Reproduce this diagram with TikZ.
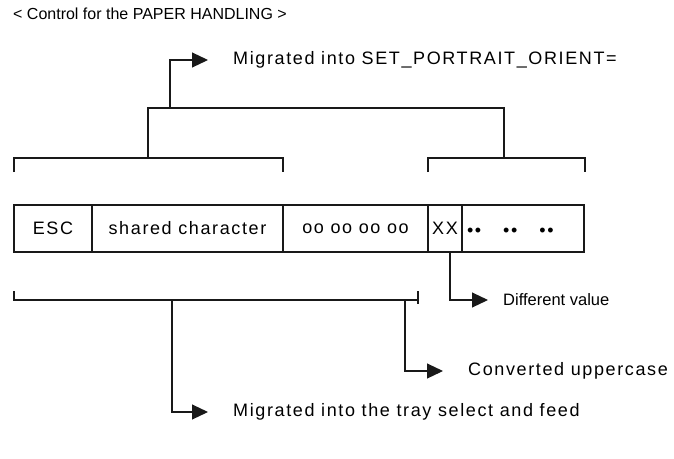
\documentclass[tikz,border=0pt]{standalone}
\usepackage{fontspec}
\setmainfont{Liberation Sans}
\newfontfamily\spaced{Liberation Sans}[LetterSpace=9]
\usepackage{xcolor}
\usepackage{tikz}
\usetikzlibrary{arrows.meta, positioning}
\definecolor{mydark}{RGB}{25,25,25}
\tikzset{
  line/.style={draw=mydark, line width=1.1pt},
  arrow/.style={draw=mydark, line width=1.1pt, -{Triangle[length=16pt, width=15pt]}, shorten >=25pt},
  cell/.style={draw=mydark, line width=1.1pt, rectangle, minimum height=47pt, inner sep=0pt, outer sep=0pt, font=\spaced\fontsize{18}{20}\selectfont},
  lbl/.style={anchor=west, inner sep=0pt, font=\spaced\fontsize{18}{20}\selectfont}
}
\begin{document}
\begin{tikzpicture}[x=1pt, y=-1pt]
  \useasboundingbox (0,0) rectangle (674,458);
  \node [lbl, font=\fontsize{16}{18}\selectfont] (title) at (13,14) {< Control for the PAPER HANDLING >};

  \node [cell, minimum width=78pt, anchor=north west] (esc) at (14,205) {ESC};
  \node [cell, minimum width=191pt, right=0pt of esc] (shrd) {shared character};
  \node [cell, minimum width=145pt, right=0pt of shrd] (code) {oo oo oo oo};
  \node [cell, minimum width=34pt, right=0pt of code] (xx) {XX};
  \node [cell, text width=112pt, inner xsep=5pt, align=left, right=0pt of xx] (dots) {\rule{0pt}{12pt}\raisebox{-2pt}[0pt][0pt]{••\hspace{22pt}••\hspace{22pt}••}};

  \node [lbl] (lorient) at (233,60) {Migrated into SET\_PORTRAIT\_ORIENT=};
  \node [lbl, font=\fontsize{16.5}{18}\selectfont] (ldiff) at (503,300) {Different value};
  \node [lbl] (lconv) at (468,371) {Converted uppercase};
  \node [lbl] (ltray) at (233,412) {Migrated into the tray select and feed};

  \draw [line] (14,172) -- (14,158) -- (283,158) -- (283,172);
  \draw [line] (428,172) -- (428,158) -- (585,158) -- (585,172);
  \draw [line] (148,158) -- (148,108) -- (504,108) -- (504,158);
  \draw [line] (14,291) -- (14,300) -- (418,300);
  \draw [line] (418,291) -- (418,304);

  \coordinate (up) at (170,108);
  \coordinate (tray) at (172,300);
  \coordinate (conv) at (405,300);

  \draw [arrow] (up) |- (lorient.west);
  \draw [arrow, shorten >=15pt] ([xshift=5pt]xx.south) |- (ldiff.west);
  \draw [arrow] (conv) |- (lconv.west);
  \draw [arrow] (tray) |- (ltray.west);
\end{tikzpicture}
\end{document}
